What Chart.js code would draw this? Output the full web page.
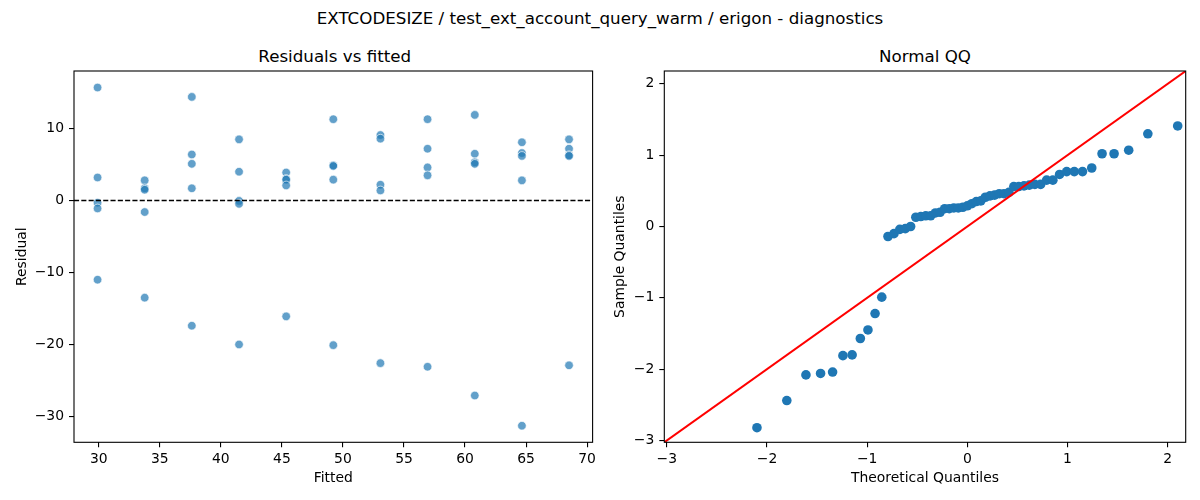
<!DOCTYPE html>
<html><head><meta charset="utf-8">
<script src="https://cdn.jsdelivr.net/npm/chart.js@4.4.1/dist/chart.umd.min.js"></script>
<style>
html,body{margin:0;padding:0;background:#fff;}
body{width:1200px;height:500px;overflow:hidden;position:relative;font-family:"DejaVu Sans",sans-serif;}
.t{position:absolute;color:#000;white-space:nowrap;transform:translate(-50%,-50%);line-height:1;font-size:16.7px;}
.box{position:absolute;top:0;width:600px;height:500px;}
</style></head><body>
<div class="t" style="left:600px;top:18px">EXTCODESIZE / test_ext_account_query_warm / erigon - diagnostics</div>
<div class="t" style="left:334.7px;top:56px">Residuals vs fitted</div>
<div class="t" style="left:925px;top:56px">Normal QQ</div>
<div class="box" style="left:0"><canvas id="c1" width="600" height="500"></canvas></div>
<div class="box" style="left:600px"><canvas id="c2" width="600" height="500"></canvas></div>
<script>
// ---- Residuals vs fitted data ----
const fitted   = [29.90, 33.76, 37.62, 41.49, 45.35, 49.21, 53.07, 56.93, 60.80, 64.66, 68.52];
const resHigh  = [15.7, 2.8, 14.4, 8.5, 3.9, 11.3, 9.1, 11.3, 11.9, 8.1, 8.5];
const resMid1  = [3.2, 1.7, 6.4, 4.0, 3.0, 4.9, 8.6, 7.2, 6.5, 6.6, 7.2];
const resMid2  = [-0.3, 1.5, 5.1, -0.05, 2.9, 4.8, 2.2, 4.6, 5.3, 6.2, 6.3];
const resMid3  = [-1.1, -1.6, 1.7, -0.46, 2.1, 2.9, 1.4, 3.5, 5.1, 2.8, 6.2];
const resLow   = [-11.0, -13.5, -17.4, -20.0, -16.1, -20.1, -22.6, -23.1, -27.1, -31.3, -22.9];
const leftXRange = [27.97, 70.45];
const leftYRange = [-33.6, 18.0];
const leftXTicks = [30, 35, 40, 45, 50, 55, 60, 65, 70];
const leftYTicks = [-30, -20, -10, 0, 10];
const zeroLevel = 0;

// ---- Normal QQ data ----
const theoretical = [-2.100, -1.802, -1.611, -1.465, -1.345, -1.242, -1.150, -1.068, -0.992, -0.921,
  -0.854, -0.792, -0.732, -0.674, -0.619, -0.566, -0.514, -0.464, -0.415, -0.366,
  -0.319, -0.272, -0.226, -0.180, -0.135, -0.090, -0.045, 0.000, 0.045, 0.090,
  0.135, 0.180, 0.226, 0.272, 0.319, 0.366, 0.415, 0.464, 0.514, 0.566,
  0.619, 0.674, 0.732, 0.792, 0.854, 0.921, 0.992, 1.068, 1.150, 1.242,
  1.345, 1.465, 1.611, 1.802, 2.100];
const sampleQ = [-2.82, -2.44, -2.08, -2.06, -2.04, -1.81, -1.80, -1.57, -1.45, -1.22,
  -0.99, -0.14, -0.10, -0.04, -0.03, 0.00, 0.13, 0.14, 0.15, 0.15,
  0.19, 0.20, 0.25, 0.25, 0.26, 0.26, 0.27, 0.29, 0.32, 0.35,
  0.36, 0.41, 0.43, 0.44, 0.46, 0.46, 0.48, 0.56, 0.56, 0.57,
  0.58, 0.59, 0.59, 0.65, 0.65, 0.73, 0.77, 0.77, 0.77, 0.82,
  1.02, 1.02, 1.07, 1.30, 1.41];
const qqRange = [-3.025, 2.18];
const qqTicks = [-3, -2, -1, 0, 1, 2];

const FAM = '"DejaVu Sans", sans-serif';
const FS = 13.9;
const fmt = v => String(v).replace('-', '\u2212');

const frame = {
  id: 'frame',
  afterDatasetsDraw(chart) {
    const {ctx, chartArea: a} = chart;
    ctx.save();
    ctx.strokeStyle = '#000';
    ctx.lineWidth = 1.1;
    ctx.strokeRect(a.left, a.top, a.right - a.left, a.bottom - a.top);
    ctx.restore();
  }
};

function makeAxis(range, ticks, title, isX, fitSize, titlePad) {
  return {
    type: 'linear',
    min: range[0], max: range[1],
    afterBuildTicks: s => { s.ticks = ticks.map(v => ({value: v})); },
    afterFit: s => { if (isX) s.height = fitSize; else s.width = fitSize; },
    grid: {display: true, drawOnChartArea: false, drawTicks: true, tickLength: 5, color: '#000', lineWidth: 1.1},
    border: {display: false},
    ticks: {color: '#000', font: {family: FAM, size: FS}, padding: isX ? 4 : 5, maxRotation: 0, minRotation: 0,
            autoSkip: false, callback: v => fmt(v)},
    title: {display: true, text: title, color: '#000', font: {family: FAM, size: FS},
            padding: isX ? {top: 0, bottom: titlePad} : {top: titlePad, bottom: 0}}
  };
}

const pts = arr => fitted.map((f, i) => ({x: f, y: arr[i]}));
const residualPoints = [].concat(pts(resHigh), pts(resMid1), pts(resMid2), pts(resMid3), pts(resLow));

new Chart(document.getElementById('c1'), {
  type: 'scatter',
  data: {
    datasets: [
      {type: 'line', data: [{x: leftXRange[0], y: zeroLevel}, {x: leftXRange[1], y: zeroLevel}],
       borderColor: '#000', borderWidth: 1.4, borderDash: [5.1, 2.2], pointRadius: 0, fill: false},
      {data: residualPoints, backgroundColor: 'rgba(31,119,180,0.7)', borderColor: 'rgba(255,255,255,0.8)',
       borderWidth: 0.8, pointRadius: 4.3}
    ]
  },
  options: {
    responsive: false, animation: false, events: [],
    layout: {padding: {top: 71, right: 4.7, bottom: 0, left: 0}},
    plugins: {legend: {display: false}, tooltip: {enabled: false}},
    scales: {
      x: makeAxis(leftXRange, leftXTicks, 'Fitted', true, 57.7, 13.7),
      y: makeAxis(leftYRange, leftYTicks, 'Residual', false, 74, 13.7)
    }
  },
  plugins: [frame]
});

new Chart(document.getElementById('c2'), {
  type: 'scatter',
  data: {
    datasets: [
      {type: 'line', data: [{x: qqRange[0], y: qqRange[0]}, {x: qqRange[1], y: qqRange[1]}],
       borderColor: '#ff0000', borderWidth: 2, pointRadius: 0, fill: false},
      {data: theoretical.map((t, i) => ({x: t, y: sampleQ[i]})), backgroundColor: '#1f77b4',
       borderColor: '#1f77b4', borderWidth: 0, pointRadius: 4.8}
    ]
  },
  options: {
    responsive: false, animation: false, events: [],
    layout: {padding: {top: 71, right: 14.3, bottom: 0, left: 0}},
    plugins: {legend: {display: false}, tooltip: {enabled: false}},
    scales: {
      x: makeAxis(qqRange, qqTicks, 'Theoretical Quantiles', true, 57.7, 13.7),
      y: makeAxis(qqRange, qqTicks, 'Sample Quantiles', false, 64.3, 11.7)
    }
  },
  plugins: [frame]
});
</script>
</body></html>
